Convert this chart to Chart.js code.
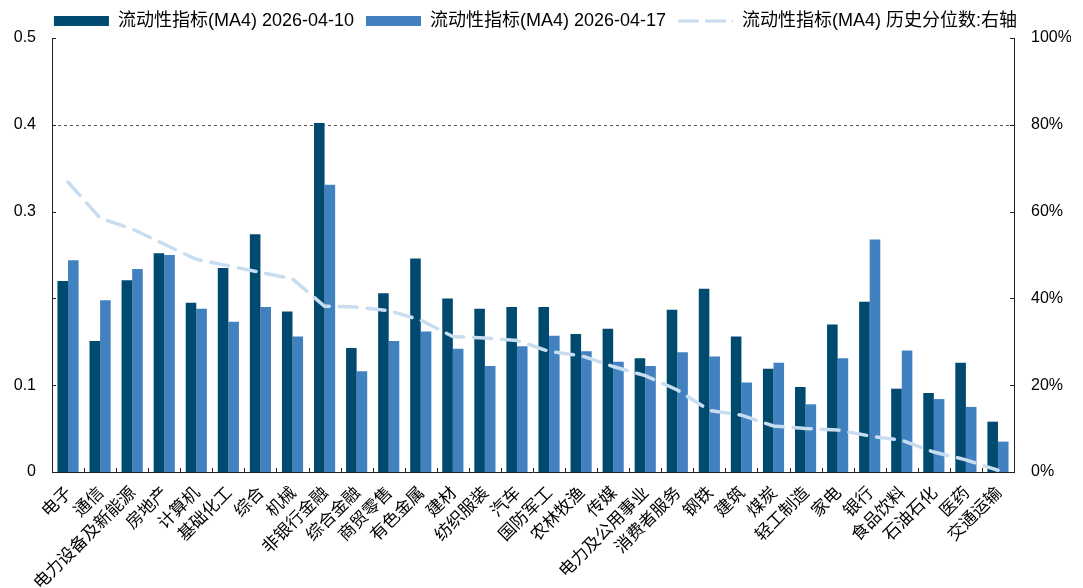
<!DOCTYPE html>
<html><head><meta charset="utf-8">
<script src="https://cdn.jsdelivr.net/npm/chart.js@4.4.1/dist/chart.umd.min.js"></script>
<style>html,body{margin:0;padding:0;background:#fff}#wrap{width:1083px;height:588px;position:relative}</style>
</head><body><div id="wrap"><canvas id="c"></canvas></div>
<script>
const categories = ['电子','通信','电力设备及新能源','房地产','计算机','基础化工','综合','机械','非银行金融','综合金融','商贸零售','有色金属','建材','纺织服装','汽车','国防军工','农林牧渔','传媒','电力及公用事业','消费者服务','钢铁','建筑','煤炭','轻工制造','家电','银行','食品饮料','石油石化','医药','交通运输'];
const liquidity0410 = [0.220,0.151,0.221,0.252,0.195,0.235,0.274,0.185,0.402,0.143,0.206,0.246,0.200,0.188,0.190,0.190,0.159,0.165,0.131,0.187,0.211,0.156,0.119,0.098,0.170,0.196,0.096,0.091,0.126,0.058];
const liquidity0417 = [0.244,0.198,0.234,0.250,0.188,0.173,0.190,0.156,0.331,0.116,0.151,0.162,0.142,0.122,0.145,0.157,0.139,0.127,0.122,0.138,0.133,0.103,0.126,0.078,0.131,0.268,0.140,0.084,0.075,0.035];
const percentile = [66.8,58.5,56.0,52.5,49.0,47.5,46.0,44.5,38.2,38.0,37.2,35.0,31.2,30.9,30.3,27.8,26.8,24.3,22.2,18.9,14.2,13.1,10.6,10.0,9.7,8.3,7.3,4.6,2.8,0.4];
const seriesNames = ['流动性指标(MA4) 2026-04-10','流动性指标(MA4) 2026-04-17','流动性指标(MA4) 历史分位数:右轴'];
const leftTickLabels = ['0','0.1','','0.3','0.4','0.5'];
const rightTickLabels = ['0%','20%','40%','60%','80%','100%'];
const refLineValue = 0.4;

const DARK='#004a6f', LIGHT='#4281c0', LINE='#c8ddf0';
const FONT='"Liberation Sans", "Noto Sans CJK SC", sans-serif';

const axisDeco = {
  id:'axisDeco',
  beforeDatasetsDraw(chart){
    const {ctx, chartArea:a, scales:{y}} = chart;
    ctx.save();
    ctx.strokeStyle='#555'; ctx.lineWidth=1; ctx.setLineDash([3,3]);
    const gy = Math.round(y.getPixelForValue(refLineValue))+0.5;
    ctx.beginPath(); ctx.moveTo(a.left,gy); ctx.lineTo(a.right,gy); ctx.stroke();
    ctx.restore();
  },
  afterDraw(chart){
    const {ctx, chartArea:a, scales:{x,y,y2}} = chart;
    ctx.save();
    ctx.strokeStyle='#222'; ctx.lineWidth=1;
    ctx.beginPath();
    y.ticks.forEach(t=>{const p=Math.round(y.getPixelForValue(t.value))+0.5; ctx.moveTo(a.left,p); ctx.lineTo(a.left+4,p);});
    y2.ticks.forEach(t=>{const p=Math.round(y2.getPixelForValue(t.value))+0.5; ctx.moveTo(a.right,p); ctx.lineTo(a.right-4,p);});
    for(let i=0;i<=categories.length;i++){
      const p=Math.round(x.getPixelForValue(i-0.5))+0.5;
      ctx.moveTo(p,a.bottom); ctx.lineTo(p,a.bottom-4);
    }
    ctx.stroke();
    ctx.restore();
  }
};

const chart = new Chart(document.getElementById('c'), {
  data:{
    labels: categories,
    datasets:[
      {type:'bar', label:seriesNames[0], data:liquidity0410, backgroundColor:DARK, yAxisID:'y', order:1, barPercentage:1, categoryPercentage:0.66},
      {type:'bar', label:seriesNames[1], data:liquidity0417, backgroundColor:LIGHT, yAxisID:'y', order:1, barPercentage:1, categoryPercentage:0.66},
      {type:'line', label:seriesNames[2], data:percentile, borderColor:LINE, backgroundColor:LINE, borderWidth:3.5, borderDash:[18,10], borderCapStyle:'round', pointRadius:0, tension:0, yAxisID:'y2', order:0}
    ]
  },
  options:{
    responsive:true, maintainAspectRatio:false, animation:false,
    layout:{padding:{left:0,right:12,top:0,bottom:0}},
    plugins:{
      tooltip:{enabled:false},
      legend:{
        position:'top',
        labels:{
          usePointStyle:true, pointStyleWidth:55, boxHeight:10, padding:12,
          color:'#000', font:{family:FONT, size:18},
          sort:(a,b)=>a.datasetIndex-b.datasetIndex,
          generateLabels(ch){
            const items = Chart.defaults.plugins.legend.labels.generateLabels(ch);
            items.forEach(it=>{
              if(it.datasetIndex===2){ it.pointStyle='line'; it.lineWidth=3; it.strokeStyle=LINE; it.lineDash=[21,6]; it.lineCap='butt'; }
              else { it.pointStyle='rect'; it.lineWidth=0; }
            });
            return items;
          }
        }
      }
    },
    scales:{
      x:{
        grid:{display:false, drawTicks:false},
        border:{display:true, color:'#222', width:1},
        ticks:{autoSkip:false, minRotation:45, maxRotation:45, padding:10, color:'#000', font:{family:'"Noto Sans CJK SC", sans-serif', size:17}},
        afterFit(s){ s.height=116; }
      },
      y:{
        position:'left', min:0, max:0.5,
        grid:{display:false, drawTicks:false},
        border:{display:true, color:'#222', width:1},
        ticks:{stepSize:0.1, padding:16, color:'#000', font:{family:FONT, size:16},
          callback:(v,i)=>leftTickLabels[i]},
        afterFit(s){ s.width=52; }
      },
      y2:{
        position:'right', min:0, max:100,
        grid:{display:false, drawTicks:false},
        border:{display:true, color:'#222', width:1},
        ticks:{stepSize:20, padding:17, color:'#000', font:{family:FONT, size:16},
          callback:(v,i)=>rightTickLabels[i]},
        afterFit(s){ s.width=57; }
      }
    }
  },
  plugins:[axisDeco, {
    id:'legendHeight',
    beforeInit(ch){
      const fit = ch.legend.fit;
      ch.legend.fit = function(){ fit.call(this); this.height = 38; };
    }
  }]
});
</script>
</body></html>
